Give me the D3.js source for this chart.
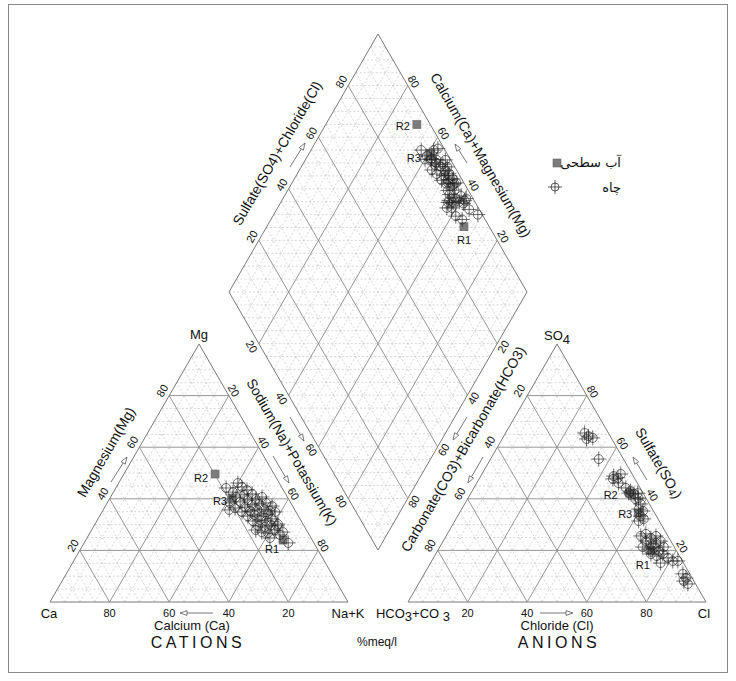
<!DOCTYPE html>
<html lang="en">
<head>
<meta charset="utf-8">
<title>Piper diagram</title>
<script src="https://cdn.jsdelivr.net/npm/d3@7"></script>
<style>
  body { margin: 0; background: #fff; }
  text { font-family: "Liberation Sans", Arial, sans-serif; fill: #111; }
</style>
</head>
<body>
<script>
// well samples, %meq/l
var wellCa  = [18.8,13.9,13.3,17.3,12.2,17.2,14.1,11.2,20.4,16.8,13.9,11.0,8.5,19.7,16.2,13.4,10.9,8.3,6.9,18.1,15.2,12.6,10.2,8.5,17.0,14.4,12.3,9.8,7.0,16.2,13.6,11.8,9.4,15.4,13.3,10.9,8.4,15.4,13.5,10.6,9.8,13.8,8.6,9.0,22.0,17.0,8.3];
var wellMg  = [44.2,46.1,44.6,42.6,43.4,40.7,41.5,41.9,38.4,38.8,39.5,39.9,40.7,36.4,36.8,37.6,38.0,38.4,37.2,34.9,35.3,35.7,36.0,35.3,33.3,33.7,33.3,34.1,34.9,31.4,31.8,31.4,32.2,29.5,29.1,29.8,30.2,27.1,26.7,27.9,26.0,24.8,22.9,29.5,35.7,27.9,27.1];
var wellNaK = [37.0,40.0,42.1,40.1,44.4,42.1,44.4,46.9,41.2,44.4,46.6,49.1,50.8,43.9,47.0,49.0,51.1,53.3,55.9,47.0,49.5,51.7,53.8,56.2,49.7,51.9,54.4,56.1,58.1,52.4,54.6,56.8,58.4,55.1,57.6,59.3,61.4,57.5,59.8,61.5,64.2,61.4,68.5,61.5,42.3,55.1,64.6];
var wellHCO3 = [8.0,7.3,6.2,8.5,8.3,6.6,5.5,7.4,3.8,6.3,4.8,3.8,3.2,4.8,1.8,2.5,3.7,2.9,4.6,3.5,5.3,4.8,6.9,9.1,7.0,6.1,4.0,8.4,7.2,5.3,3.4,10.6,9.0,7.1,5.9,3.5,9.2,7.6,5.2,4.2,7.7,3.2,1.5,2.3,2.1,2.6,3.4];
var wellSO4 = [65.5,64.3,63.6,63.2,55.4,48.8,48.1,47.7,49.6,46.1,44.2,43.0,41.9,42.2,42.2,40.3,39.9,38.0,36.0,35.3,33.3,32.2,31.4,25.6,26.4,24.8,25.6,23.6,22.5,22.9,23.6,21.3,20.5,20.9,19.8,21.3,18.6,17.8,18.6,17.1,15.1,15.9,15.9,10.9,9.3,7.0,8.1];
var wellCl  = [26.5,28.4,30.2,28.3,36.3,44.6,46.4,44.9,46.6,47.6,51.0,53.2,54.9,53.0,56.0,57.2,56.4,59.1,59.4,61.2,61.4,63.0,61.7,65.3,66.6,69.1,70.4,68.0,70.3,71.8,73.0,68.1,70.5,72.0,74.3,75.2,72.2,74.6,76.2,78.7,77.2,80.9,82.6,86.8,88.6,90.4,88.5];

// surface water samples
var surfName = ["R1","R2","R3"];
var surfCa   = [9.8,19.8,18.8];
var surfMg   = [24.0,49.6,40.3];
var surfNaK  = [66.2,30.6,40.9];
var surfHCO3 = [8.5,4.5,5.5];
var surfSO4  = [20.0,42.2,34.5];
var surfCl   = [71.5,53.3,60.0];

var ticks = [20,40,60,80];
var legendText = ["آب سطحی", "چاه"];

var L = 298, TH = 258;
var side = d3.scaleLinear().domain([0,100]).range([0,L]);
var rise = d3.scaleLinear().domain([0,100]).range([0,TH]);
var cat = {x: 50, y: 602};
var ani = {x: 408, y: 602};
var dia = {x: 378, y: 550};

function catXY(ca, mg, na){ return [cat.x + side(na + mg/2), cat.y - rise(mg)]; }
function aniXY(hco3, so4, cl){ return [ani.x + side(cl + so4/2), ani.y - rise(so4)]; }
// s = SO4+Cl, c = Ca+Mg
function diaXY(s, c){ return [dia.x + side(s/2) - side(c/2), dia.y - rise(s) - rise(c)]; }

var svg = d3.select('body').append('svg').attr('width',736).attr('height',681);

svg.append('rect').attr('x',8.5).attr('y',4.5).attr('width',719).attr('height',668)
  .attr('fill','none').attr('stroke','#888');

var grid = svg.append('g');
var minor = d3.range(5,100,5).filter(function(k){ return k % 20 != 0; });

function seg(p, q, major){
  grid.append('line').attr('x1',p[0]).attr('y1',p[1]).attr('x2',q[0]).attr('y2',q[1])
    .attr('stroke', major ? '#8a8a8a' : '#c4c4c4')
    .attr('stroke-width', major ? 0.9 : 0.7)
    .attr('stroke-dasharray', major ? null : '2,2');
}

function triGrid(o, ks, major){
  ks.forEach(function(k){
    var b = [o.x + side(k), o.y];
    seg([o.x + side(k/2), o.y - rise(k)], [o.x + side(100 - k/2), o.y - rise(k)], major);
    seg(b, [o.x + side(k/2), o.y - rise(k)], major);
    seg(b, [o.x + side(k + (100-k)/2), o.y - rise(100-k)], major);
  });
}
function diaGrid(ks, major){
  ks.forEach(function(k){
    seg(diaXY(0,k), diaXY(100,k), major);
    seg(diaXY(k,0), diaXY(k,100), major);
  });
}
triGrid(cat, minor, false);
triGrid(ani, minor, false);
diaGrid(minor, false);
// horizontal dashed lines inside the diamond
d3.range(5,200,5).forEach(function(k){
  if (k <= 100) seg(diaXY(0,k), diaXY(k,0), false);
  else seg(diaXY(k-100,100), diaXY(100,k-100), false);
});
triGrid(cat, ticks, true);
triGrid(ani, ticks, true);
diaGrid(ticks, true);

function outline(pts){
  grid.append('path').attr('d', 'M' + pts.map(function(p){ return p.join(','); }).join('L') + 'Z')
    .attr('fill','none').attr('stroke','#7a7a7a').attr('stroke-width',1);
}
outline([catXY(100,0,0), catXY(0,0,100), catXY(0,100,0)]);
outline([aniXY(100,0,0), aniXY(0,0,100), aniXY(0,100,0)]);
outline([diaXY(0,0), diaXY(0,100), diaXY(100,100), diaXY(100,0)]);

// tick labels
var lab = svg.append('g').attr('font-size', 11);
function tl(p, dx, dy, rot, t){
  lab.append('text').attr('transform','translate(' + (p[0]+dx) + ',' + (p[1]+dy) + ') rotate(' + rot + ')')
    .attr('text-anchor','middle').attr('dy','0.36em').text(t);
}
ticks.forEach(function(v){
  tl([cat.x + side(100 - v), cat.y], 0, 11, 0, v);              // Ca
  tl(catXY(100 - v, v, 0), -7, -5, -60, v);                     // Mg
  tl(catXY(0, 100 - v, v), 5, -5, 60, v);                       // Na+K
  tl([ani.x + side(v), ani.y], 0, 11, 0, v);                    // Cl
  tl(aniXY(v, 100 - v, 0), -8, -5, -60, v);                     // HCO3
  tl(aniXY(0, v, 100 - v), 6, -4, 60, v);                       // SO4
  tl(diaXY(v, 100), -7, -4, -60, v);                            // SO4+Cl
  tl(diaXY(100, v), 6, -4, 60, v);                              // Ca+Mg
  tl(diaXY(0, 100 - v), -7, 3, 60, v);                          // Na+K
  tl(diaXY(100 - v, 0), 6, 3, -60, v);                          // HCO3
});

// titles
var tt = svg.append('g').attr('font-size', 13);
function title(x, y, rot, t, fs){
  return tt.append('text').attr('transform','translate(' + x + ',' + y + ') rotate(' + rot + ')')
    .attr('text-anchor','middle').attr('dy','0.36em').attr('font-size', fs || 13).text(t);
}
title(49, 613, 0, 'Ca');
title(348, 613, 0, 'Na+K');
title(199, 334, 0, 'Mg');
title(704, 613, 0, 'Cl');
var hc = tt.append('text').attr('x',413).attr('y',617.5).attr('text-anchor','middle');
hc.append('tspan').text('HCO');
hc.append('tspan').attr('dy',3).text('3');
hc.append('tspan').attr('dy',-3).text('+CO ');
hc.append('tspan').attr('dy',3).text('3');
var so = tt.append('text').attr('x',557).attr('y',340).attr('text-anchor','middle');
so.append('tspan').text('SO');
so.append('tspan').attr('dy',4).text('4');
title(192, 625, 0, 'Calcium (Ca)');
title(557, 625, 0, 'Chloride (Cl)');
title(106, 452, -60, 'Magnesium(Mg)', 14);
title(292, 452, 60, 'Sodium(Na)+Potassium(K)', 14);
title(277, 153, -60, 'Sulfate(SO4)+Chloride(Cl)', 14);
title(481, 155, 60, 'Calcium(Ca)+Magnesium(Mg)', 14);
title(463, 449, -60, 'Carbonate(CO3)+Bicarbonate(HCO3)', 14);
var su = tt.append('text').attr('transform','translate(659,463) rotate(60)').attr('text-anchor','middle')
  .attr('dy','0.36em').attr('font-size',14);
su.append('tspan').text('Sulfate(SO');
su.append('tspan').attr('font-size',11).attr('dy',2).text('4');
su.append('tspan').attr('dy',-2).text(')');

svg.append('text').attr('x',198).attr('y',648).attr('text-anchor','middle')
  .attr('font-size',16).attr('letter-spacing',3.5).text('CATIONS');
svg.append('text').attr('x',559).attr('y',648).attr('text-anchor','middle')
  .attr('font-size',16).attr('letter-spacing',3.5).text('ANIONS');
svg.append('text').attr('x',377).attr('y',646).attr('text-anchor','middle')
  .attr('font-size',12).text('%meq/l');

// arrows
var arr = svg.append('g');
function arrow(x1, y1, x2, y2){
  var a = Math.atan2(y2 - y1, x2 - x1), len = 7, w = 2.4;
  var bx = x2 - len*Math.cos(a), by = y2 - len*Math.sin(a);
  var px = -Math.sin(a)*w, py = Math.cos(a)*w;
  arr.append('line').attr('x1',x1).attr('y1',y1).attr('x2',bx).attr('y2',by)
    .attr('stroke','#555').attr('stroke-width',0.8);
  arr.append('path').attr('d','M' + x2 + ',' + y2 + 'L' + (bx+px) + ',' + (by+py) + 'L' + (bx-px) + ',' + (by-py) + 'Z')
    .attr('fill','#fff').attr('stroke','#555').attr('stroke-width',0.8);
}
arrow(213,613,180,613);
arrow(540,613,573,613);
arrow(111,482,127,457);
arrow(290,417,304,441);
arrow(273,456,289,483);
arrow(290,167,305,143);
arrow(467,163,455,144);
arrow(467,417,453,440);
arrow(483,457,468,483);
arrow(647,480,633,457);

// surface water squares
var pts = svg.append('g');
function square(p){
  pts.append('rect').attr('x',p[0]-4).attr('y',p[1]-4).attr('width',8).attr('height',8)
    .attr('fill','#7c7c7c').attr('stroke','#666').attr('stroke-width',0.6);
}
function well(p){
  var g = pts.append('g').attr('stroke','#222').attr('stroke-width',0.8).attr('stroke-opacity',0.8).attr('fill','none');
  g.append('circle').attr('cx',p[0]).attr('cy',p[1]).attr('r',4.5);
  g.append('line').attr('x1',p[0]-7.5).attr('x2',p[0]+7.5).attr('y1',p[1]).attr('y2',p[1]);
  g.append('line').attr('x1',p[0]).attr('x2',p[0]).attr('y1',p[1]-7.5).attr('y2',p[1]+7.5);
}

var labOff = {
  cat: [[-11,9],[-14,4],[-12,3]],
  ani: [[-8,15],[-19,2],[-13,1]],
  dia: [[0,13],[-14,1],[-17,4]]
};
surfName.forEach(function(n, i){
  var pc = catXY(surfCa[i], surfMg[i], surfNaK[i]);
  var pa = aniXY(surfHCO3[i], surfSO4[i], surfCl[i]);
  var pd = diaXY(surfSO4[i] + surfCl[i], surfCa[i] + surfMg[i]);
  [[pc,'cat'],[pa,'ani'],[pd,'dia']].forEach(function(e){
    square(e[0]);
    var o = labOff[e[1]][i];
    svg.append('text').attr('x',e[0][0]+o[0]).attr('y',e[0][1]+o[1]).attr('dy','0.36em')
      .attr('text-anchor','middle').attr('font-size',11).text(n);
  });
});

wellCa.forEach(function(ca, i){
  well(catXY(ca, wellMg[i], wellNaK[i]));
  well(aniXY(wellHCO3[i], wellSO4[i], wellCl[i]));
  well(diaXY(wellSO4[i] + wellCl[i], ca + wellMg[i]));
});

// legend
var lg = svg.append('g');
lg.append('rect').attr('x',553).attr('y',159).attr('width',8).attr('height',8)
  .attr('fill','#7c7c7c').attr('stroke','#666').attr('stroke-width',0.6);
var lw = lg.append('g').attr('stroke','#333').attr('stroke-width',0.8).attr('fill','none');
lw.append('circle').attr('cx',555).attr('cy',187).attr('r',4);
lw.append('line').attr('x1',548).attr('x2',562).attr('y1',187).attr('y2',187);
lw.append('line').attr('x1',555).attr('x2',555).attr('y1',180).attr('y2',194);
lg.selectAll('text.lg').data(legendText).enter().append('text')
  .attr('x',621).attr('y',function(d,i){ return 167 + i*25; })
  .attr('text-anchor','end').attr('font-size',13)
  .style('font-family','"DejaVu Sans", sans-serif')
  .text(function(d){ return d; });
</script>
</body>
</html>
